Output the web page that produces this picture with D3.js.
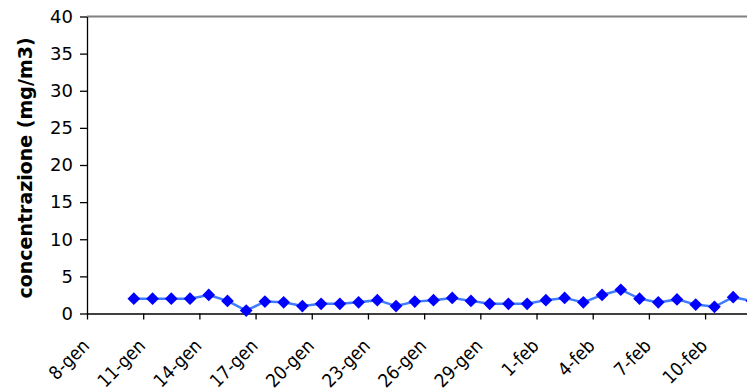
<!DOCTYPE html>
<html>
<head>
<meta charset="utf-8">
<script src="https://cdn.jsdelivr.net/npm/d3@7"></script>
<style>
  html, body { margin: 0; padding: 0; background: #fff; }
  svg { display: block; }
  text { font-family: "DejaVu Sans", Verdana, sans-serif; fill: #000; }
  .day-label { font-family: "DejaVu Sans Condensed", "Liberation Sans", sans-serif; }
</style>
</head>
<body>
<svg id="chart" width="747" height="389"></svg>
<script>
// Daily categories (Italian short dates)
const days = [
  "8-gen","9-gen","10-gen","11-gen","12-gen","13-gen","14-gen","15-gen","16-gen",
  "17-gen","18-gen","19-gen","20-gen","21-gen","22-gen","23-gen","24-gen","25-gen",
  "26-gen","27-gen","28-gen","29-gen","30-gen","31-gen","1-feb","2-feb","3-feb",
  "4-feb","5-feb","6-feb","7-feb","8-feb","9-feb","10-feb","11-feb","12-feb"
];
// Concentration in mg/m3 (no measurement on the first two days)
const concentration = [
  null, null, 2.0, 2.0, 2.0, 2.0, 2.5, 1.7, 0.4,
  1.6, 1.5, 1.0, 1.3, 1.3, 1.5, 1.8, 1.0, 1.6,
  1.8, 2.1, 1.7, 1.3, 1.3, 1.3, 1.8, 2.1, 1.5,
  2.5, 3.2, 2.0, 1.5, 1.9, 1.2, 0.9, 2.2, 1.7
];
const yTicks = [0, 5, 10, 15, 20, 25, 30, 35, 40];
const labelStep = 3;

const svg = d3.select("#chart");
const plotLeft = 87, plotTop = 16.5, plotBottom = 313.5, dayWidth = 18.73;
const plotRight = plotLeft + days.length * dayWidth;

const x = d3.scaleBand().domain(days).range([plotLeft, plotRight]).padding(0);
const xIndex = d3.scaleLinear().domain([0, days.length]).range([plotLeft, plotRight]);
const y = d3.scaleLinear().domain([0, 40]).range([plotBottom, plotTop]);

// plot area top border
svg.append("line")
  .attr("x1", plotLeft).attr("x2", plotRight)
  .attr("y1", plotTop).attr("y2", plotTop)
  .attr("stroke", "#808080").attr("stroke-width", 2);

// y axis
const yAxis = svg.append("g")
  .attr("transform", `translate(${plotLeft},0)`)
  .call(d3.axisLeft(y).tickValues(yTicks).tickSize(7).tickPadding(7).tickSizeOuter(0));
yAxis.select(".domain").attr("stroke", "#000").attr("stroke-width", 1.3);
yAxis.selectAll(".tick line").attr("stroke", "#000").attr("stroke-width", 1.3);
yAxis.selectAll(".tick text")
  .attr("font-size", 18).attr("font-family", "DejaVu Sans").attr("fill", "#000");

// x axis: tick marks on category boundaries every third day
const xAxis = svg.append("g")
  .attr("transform", `translate(0,${plotBottom})`)
  .call(d3.axisBottom(xIndex)
    .tickValues(d3.range(0, days.length + 1, labelStep))
    .tickSize(6).tickSizeOuter(0).tickFormat(""));
xAxis.select(".domain").attr("stroke", "#000").attr("stroke-width", 1.3);
xAxis.selectAll(".tick line").attr("stroke", "#000").attr("stroke-width", 1.3);

// rotated day labels
svg.append("g").selectAll("text")
  .data(days.filter((d, i) => i % labelStep === 0))
  .join("text")
  .attr("class", "day-label")
  .attr("transform", d => `translate(${x(d) + x.bandwidth() / 2 - 6},${plotBottom + 33.5}) rotate(-45)`)
  .attr("text-anchor", "end")
  .attr("font-size", 18.5)
  .text(d => d);

// y axis title
svg.append("text")
  .attr("transform", `translate(32,${(plotTop + plotBottom) / 2 + 3}) rotate(-90)`)
  .attr("text-anchor", "middle")
  .attr("font-size", 19)
  .attr("font-weight", "bold")
  .text("concentrazione (mg/m3)");

// series
const pts = days.map((d, i) => ({ d, v: concentration[i] }));
const cx = p => x(p.d) + x.bandwidth() / 2;

svg.append("path")
  .datum(pts)
  .attr("fill", "none")
  .attr("stroke", "#3f7cff")
  .attr("stroke-width", 2.5)
  .attr("d", d3.line().defined(p => p.v != null).x(cx).y(p => y(p.v)));

svg.append("g").selectAll("path")
  .data(pts.filter(p => p.v != null))
  .join("path")
  .attr("transform", p => `translate(${cx(p)},${y(p.v)}) rotate(45)`)
  .attr("d", d3.symbol().type(d3.symbolSquare).size(81))
  .attr("fill", "#0000ff");
</script>
</body>
</html>
